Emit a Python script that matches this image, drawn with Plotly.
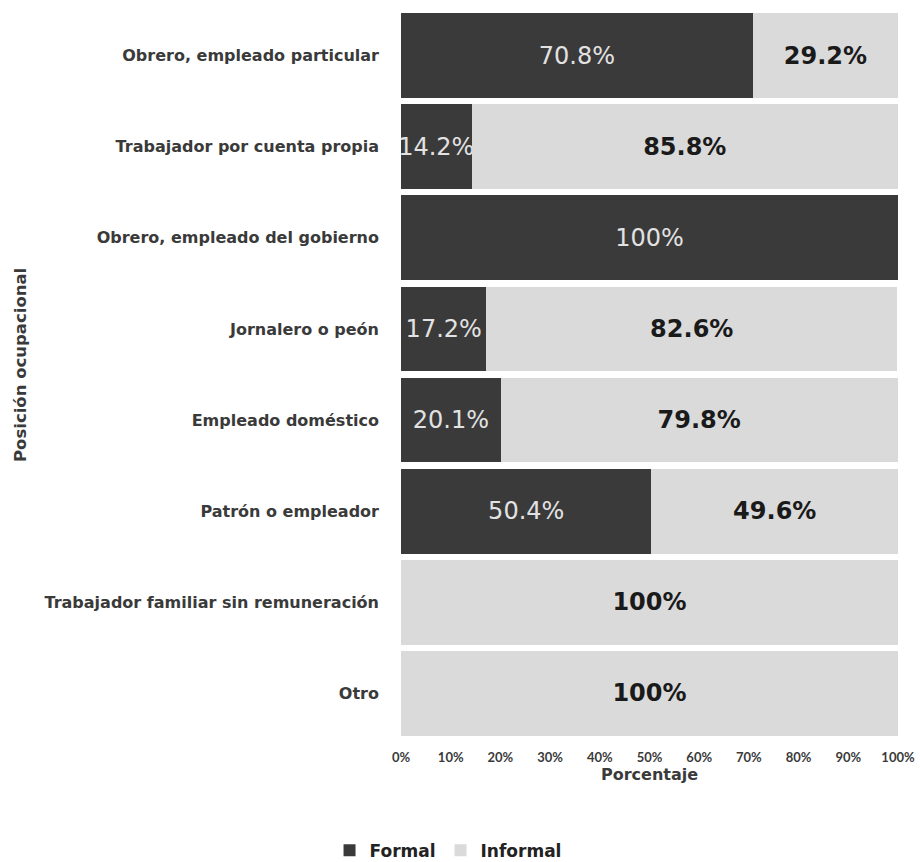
import plotly.graph_objects as go

# Occupational position categories, top to bottom
categorias = [
    "Obrero, empleado particular",
    "Trabajador por cuenta propia",
    "Obrero, empleado del gobierno",
    "Jornalero o peón",
    "Empleado doméstico",
    "Patrón o empleador",
    "Trabajador familiar sin remuneración",
    "Otro",
]
formal = [70.8, 14.2, 100.0, 17.2, 20.1, 50.4, 0.0, 0.0]
informal = [29.2, 85.8, 0.0, 82.6, 79.8, 49.6, 100.0, 100.0]
ticks_x = [0, 10, 20, 30, 40, 50, 60, 70, 80, 90, 100]

FUENTE = "DejaVu Sans"


def etiqueta(v):
    if v <= 0:
        return ""
    if v == 100:
        return "100%"
    return f"{v:.1f}%"


fig = go.Figure()
fig.add_trace(go.Bar(
    y=categorias, x=formal, orientation="h", name="Formal",
    marker=dict(color="#3a3a3a", line=dict(width=0)),
    text=[etiqueta(v) for v in formal],
    textposition="inside", insidetextanchor="middle",
    constraintext="none", textangle=0,
    textfont=dict(family=FUENTE, size=24, color="#e2e2e2"),
    hoverinfo="skip",
))
fig.add_trace(go.Bar(
    y=categorias, x=informal, orientation="h", name="Informal",
    marker=dict(color="#dadada", line=dict(width=0)),
    text=[etiqueta(v) for v in informal],
    textposition="inside", insidetextanchor="middle",
    constraintext="none", textangle=0,
    textfont=dict(family=FUENTE, size=24, color="#1a1a1a", weight="bold"),
    hoverinfo="skip",
))

fig.update_layout(
    width=920, height=862,
    barmode="stack", bargap=0.07,
    margin=dict(l=401, r=22, t=10, b=123, autoexpand=False),
    plot_bgcolor="white", paper_bgcolor="white",
    font=dict(family=FUENTE, color="#333333"),
    showlegend=True,
    legend=dict(
        orientation="h", xref="container", yref="container",
        x=0.487, xanchor="center", y=0.013, yanchor="middle",
        font=dict(family=FUENTE, size=17, color="#222222", weight="bold"),
        itemwidth=30, traceorder="normal",
    ),
    xaxis=dict(
        range=[0, 100], tickvals=ticks_x,
        ticktext=[f"{t}%" for t in ticks_x],
        showgrid=False, zeroline=False, showline=False,
        tickfont=dict(family="Lato", size=13, color="#3a3a3a", weight="bold"),
        ticks="outside", ticklen=6, tickcolor="white",
        automargin=False,
        title=dict(text="Porcentaje", standoff=2,
                   font=dict(family=FUENTE, size=16, color="#3a3a3a", weight="bold")),
        fixedrange=True,
    ),
    yaxis=dict(
        autorange="reversed", showgrid=False, zeroline=False, showline=False,
        tickfont=dict(family=FUENTE, size=16, color="#3a3a3a", weight="bold"),
        ticklabelstandoff=21, automargin=False,
        fixedrange=True,
    ),
    annotations=[dict(
        text="Posición ocupacional", textangle=-90,
        xref="paper", yref="paper", x=(20 - 401) / 497, y=0.513,
        xanchor="center", yanchor="middle", showarrow=False,
        font=dict(family=FUENTE, size=16.5, color="#3a3a3a", weight="bold"),
    )],
)

fig.write_html("out.html")
